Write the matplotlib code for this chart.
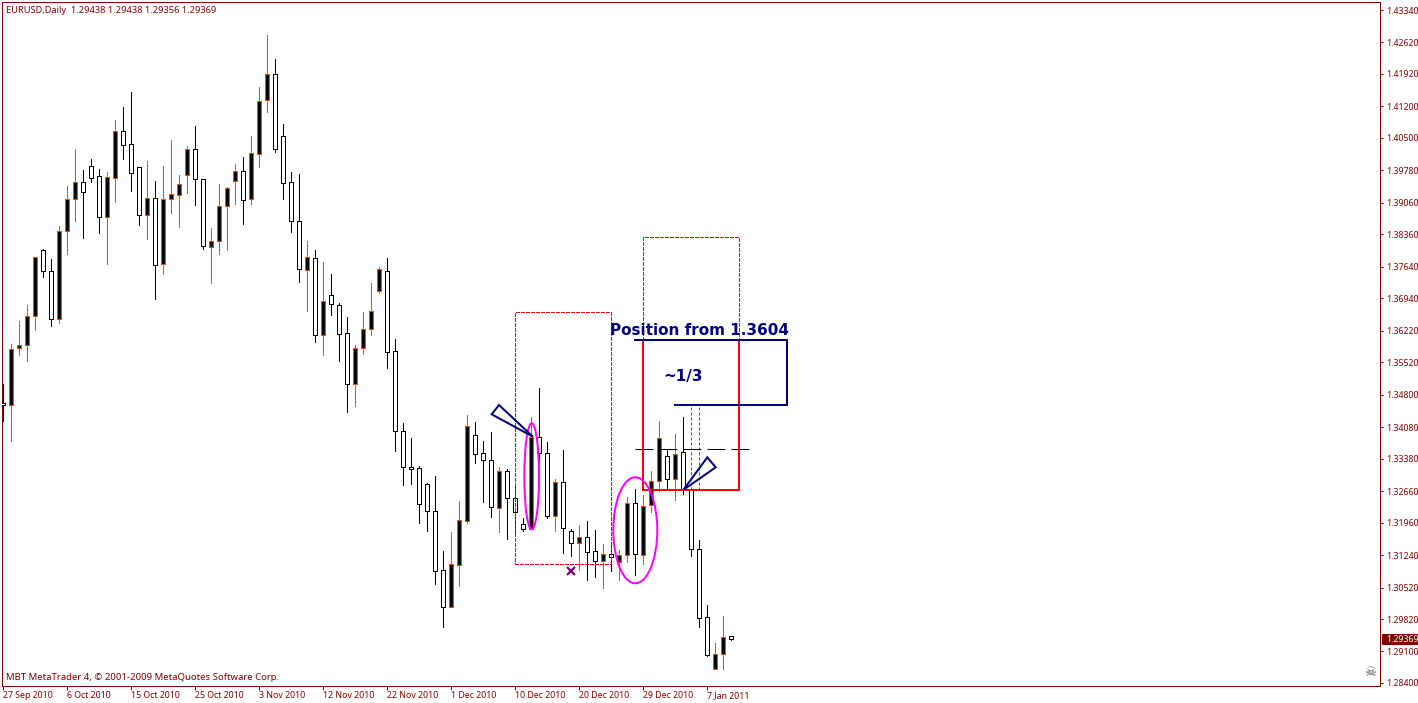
import matplotlib
matplotlib.use("Agg")
import matplotlib.pyplot as plt
from matplotlib.patches import Rectangle, Ellipse, Polygon
from matplotlib.transforms import blended_transform_factory

body_top = [1.34605,1.35822,1.35910,1.36554,1.37864,1.38006,1.37540,1.38428,1.39138,1.39516,
            1.39516,1.39871,1.39649,1.39627,1.40648,1.40648,1.40360,1.39849,1.39161,1.39161,
            1.39138,1.39249,1.39471,1.40248,1.40248,1.39582,1.38206,1.38983,1.39382,1.39760,
            1.39760,1.40159,1.41314,1.41913,1.41913,1.40537,1.39516,1.38650,1.37851,1.37829,
            1.36874,1.37007,1.36785,1.36163,1.35830,1.36252,1.36652,1.37584,1.37540,1.35764,
            1.33988,1.33189,1.33167,1.32811,1.32212,1.30902,1.31035,1.32012,1.34099,1.33899,
            1.33499,1.33344,1.33100,1.33100,1.32500,1.31923,1.33855,1.33855,1.33499,1.32856,
            1.32856,1.31768,1.31634,1.31634,1.31324,1.31257,1.31257,1.31235,1.32390,1.32390,
            1.32323,1.32878,1.33833,1.33433,1.33477,1.33522,1.32685,1.31368,1.29858,1.29037,
            1.29414,1.29438]
body_bot = [1.34572,1.34565,1.35830,1.35910,1.36554,1.37553,1.36474,1.36488,1.38428,1.39138,
            1.39294,1.39604,1.38752,1.38739,1.39604,1.40337,1.39716,1.38783,1.38783,1.37673,
            1.37695,1.39138,1.39227,1.39671,1.39582,1.38095,1.38073,1.38206,1.38983,1.39538,
            1.39116,1.39138,1.40137,1.41336,1.40248,1.39493,1.38650,1.37584,1.37562,1.36119,
            1.36119,1.36807,1.36141,1.35031,1.35031,1.35830,1.36252,1.37096,1.35742,1.33988,
            1.33189,1.33158,1.32367,1.32212,1.30880,1.30081,1.30081,1.31013,1.31990,1.33477,
            1.33344,1.32301,1.32278,1.32500,1.32190,1.31812,1.31819,1.33499,1.32101,1.32101,
            1.31834,1.31501,1.31501,1.31301,1.31102,1.31102,1.31191,1.31079,1.31235,1.31257,
            1.31235,1.32345,1.32878,1.32922,1.32922,1.32700,1.31368,1.29836,1.29022,1.28711,
            1.29037,1.29369]
highs = [1.35038,1.35926,1.36436,1.36792,1.37864,1.38035,1.37813,1.38546,1.39434,1.40255,
         1.39789,1.40033,1.39811,1.39745,1.40899,1.41188,1.41521,1.39849,1.39989,1.39545,
         1.39878,1.40455,1.39678,1.40321,1.40765,1.39582,1.38501,1.39478,1.39411,1.39922,
         1.40077,1.40543,1.41631,1.42786,1.42253,1.40810,1.39745,1.39700,1.38213,1.38013,
         1.37746,1.37480,1.36830,1.36519,1.35897,1.36636,1.37280,1.37635,1.37829,1.36037,
         1.34172,1.33833,1.33217,1.32840,1.32995,1.31330,1.31752,1.32440,1.34349,1.34194,
         1.33772,1.33972,1.33189,1.33144,1.32796,1.32063,1.34305,1.34943,1.33750,1.32922,
         1.33573,1.31819,1.31908,1.31996,1.31797,1.31486,1.31464,1.31353,1.32529,1.32707,
         1.32574,1.33106,1.34217,1.33588,1.33928,1.34305,1.32722,1.31575,1.30132,1.29288,
         1.29888,1.29438]
lows = [1.34223,1.33779,1.35682,1.35555,1.36237,1.37420,1.36326,1.36399,1.37924,1.38663,
        1.38279,1.39529,1.38397,1.37702,1.39079,1.40033,1.39329,1.38575,1.38257,1.36932,
        1.37480,1.38834,1.38523,1.39278,1.39018,1.38035,1.37280,1.37924,1.38013,1.39034,
        1.38590,1.39034,1.39855,1.41076,1.40195,1.39145,1.38412,1.37309,1.36665,1.35970,
        1.35682,1.36570,1.35548,1.34416,1.34549,1.35704,1.36126,1.37065,1.35393,1.33551,
        1.32796,1.32818,1.31952,1.31775,1.30598,1.29650,1.30081,1.30553,1.31959,1.33284,
        1.32418,1.32085,1.31752,1.31597,1.31752,1.31775,1.31819,1.33313,1.32056,1.31775,
        1.31286,1.31219,1.30909,1.30687,1.30753,1.30509,1.30886,1.30687,1.31086,1.30798,
        1.31042,1.32196,1.32663,1.32685,1.32463,1.32596,1.31219,1.29643,1.28999,1.28711,
        1.28711,1.29356]
bull = [0,1,1,1,1,0,0,1,1,1,
        0,0,0,1,1,0,0,0,1,0,
        1,1,1,1,0,0,1,1,1,1,
        0,1,1,1,0,0,0,0,1,0,
        1,0,0,0,1,1,1,1,0,0,
        0,0,0,0,0,0,1,1,1,0,
        0,0,1,0,0,0,1,0,0,1,
        0,0,1,0,0,1,0,1,1,0,
        1,1,1,0,1,0,0,0,0,1,
        1,0]

price_ticks = [1.43340,1.42620,1.41920,1.41200,1.40500,1.39780,1.39060,1.38360,1.37640,1.36940,1.36220,
               1.35520,1.34800,1.34080,1.33380,1.32660,1.31960,1.31240,1.30520,1.29820,1.29100,1.28400]
date_labels = ["27 Sep 2010","6 Oct 2010","15 Oct 2010","25 Oct 2010","3 Nov 2010","12 Nov 2010",
               "22 Nov 2010","1 Dec 2010","10 Dec 2010","20 Dec 2010","29 Dec 2010","7 Jan 2011"]
last_price = 1.29369

MAROON = "#800000"
ORANGE = "#ff4500"
NAVY = "#000080"
FONT = "Noto Sans"
PX = 0.72  # one pixel at dpi 100 in points

fig = plt.figure(figsize=(14.18, 7.03), dpi=100)
ax = fig.add_axes([2/1418, 1-686/703, 1378/1418, 684/703])
ax.set_xlim((2-3.3)/8, (1380-3.3)/8)
ax.set_ylim(1.283334, 1.435182)
for s in ax.spines.values():
    s.set_color(MAROON)
    s.set_linewidth(PX)

# candles
xs = list(range(len(body_top)))
for i in xs:
    col = ORANGE if bull[i] else "black"
    fill = "#0a0a0a" if bull[i] else "white"
    ax.vlines(i, lows[i], highs[i], colors=col, linewidth=PX, antialiased=False, zorder=2)
    ax.add_patch(Rectangle((i-0.25, body_bot[i]), 0.5, body_top[i]-body_bot[i], facecolor=fill,
                           edgecolor=col, linewidth=PX, antialiased=False, zorder=3))

# axes ticks and labels
ax.yaxis.tick_right()
ax.set_yticks(price_ticks)
ax.set_yticklabels(["%.5f" % p for p in price_ticks])
ax.tick_params(axis="y", length=2.2, width=PX, color=MAROON, labelcolor=MAROON, labelsize=6.3, pad=2)
ax.set_xticks(xs[::8])
ax.set_xticklabels(date_labels, ha="left")
ax.tick_params(axis="x", length=2.8, width=PX, color=MAROON, labelcolor=MAROON, labelsize=6.3, pad=0.6)
for t in ax.get_xticklabels() + ax.get_yticklabels():
    t.set_family(FONT)

# drawn objects, placed in bar number / price like the terminal does
def dashed_box(x0, x1, p0, p1, color="red"):
    ax.add_patch(Rectangle((x0, p0), x1-x0, p1-p0, fill=False, edgecolor=color, linewidth=PX,
                           linestyle=(0, (3, 2)), zorder=4, antialiased=False))

dashed_box(64, 76, 1.31035, 1.36630)
dashed_box(80, 92, 1.36015, 1.38294)
ax.plot([86, 86], [1.32685, 1.34572], color="red", lw=PX, ls=(0, (3, 2)), zorder=4)
ax.plot([87, 87], [1.32685, 1.34572], color="red", lw=PX, ls=(0, (3, 2)), zorder=4)
ax.plot([78.96, 93.2], [1.33588, 1.33588], color="black", lw=PX, ls=(0, (18, 6)), zorder=4)
ax.add_patch(Rectangle((80, 1.32685), 12, 1.36015-1.32685, fill=False, edgecolor="red", linewidth=2*PX, zorder=5))
ax.plot([78.96, 97.96, 97.96, 83.96], [1.36015, 1.36015, 1.34572, 1.34572], color=NAVY, lw=2*PX,
        solid_joinstyle="miter", zorder=6)

ax.add_patch(Ellipse((66.05, 1.32988), 1.84, 0.02353, fill=False, edgecolor="#ff00ff", linewidth=2*PX, zorder=5))
ax.add_patch(Ellipse((79.0, 1.31790), 5.5, 0.02353, fill=False, edgecolor="#ff00ff", linewidth=2*PX, zorder=5))
ax.add_patch(Polygon([(66.2, 1.33868), (61.96, 1.34572), (61.05, 1.34365)], fill=False, edgecolor=NAVY,
                     linewidth=2*PX, zorder=6))
ax.add_patch(Polygon([(85.0, 1.32685), (88.0, 1.33410), (89.05, 1.33189)], fill=False, edgecolor=NAVY,
                     linewidth=2*PX, zorder=6))
ax.plot([70.93], [1.30880], marker="x", color="#800080", ms=6, mew=1.6, zorder=6)

ax.text(75.8, 1.36236, "Position from 1.3604", color=NAVY, family="DejaVu Sans", weight="bold",
        fontsize=11, va="center", ha="left", zorder=7)
ax.text(82.5, 1.35215, "~1/3", color=NAVY, family="DejaVu Sans", weight="bold",
        fontsize=11, va="center", ha="left", zorder=7)

# corner texts and the current price tag
fig.text(6.5/1418, 1-10.5/703, "EURUSD,Daily  1.29438 1.29438 1.29356 1.29369", color=MAROON, family=FONT,
         fontsize=6.7, va="center", ha="left")
fig.text(6/1418, 1-677.5/703, "MBT MetaTrader 4, \u00a9 2001-2009 MetaQuotes Software Corp.", color=MAROON,
         family=FONT, fontsize=6.9, va="center", ha="left")
fig.text(1370/1418, 1-672.5/703, "\u2620", color="#555555", family="DejaVu Sans", fontsize=9.5,
         va="center", ha="center")

trans = blended_transform_factory(fig.transFigure, ax.transData)
ax.add_patch(Rectangle((1382/1418, last_price-0.00122), 36/1418, 0.00244, transform=trans, facecolor=MAROON,
                       edgecolor="none", clip_on=False, zorder=8))
ax.text(1386.5/1418, last_price, "%.5f" % last_price, transform=trans, color="white", family=FONT, fontsize=6.3,
        va="center", ha="left", clip_on=False, zorder=9)

fig.savefig("out.png", dpi=100)
